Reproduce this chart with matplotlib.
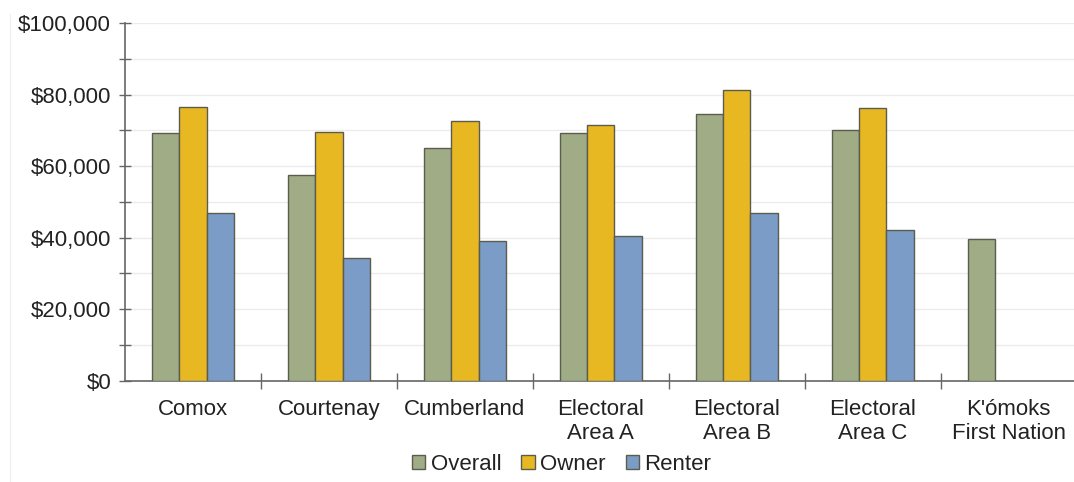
import matplotlib.pyplot as plt
import numpy as np
from matplotlib.ticker import FuncFormatter, MultipleLocator

plt.rcParams['font.family'] = ['Liberation Sans', 'DejaVu Sans']

communities = ['Comox', 'Courtenay', 'Cumberland', 'Electoral\nArea A',
               'Electoral\nArea B', 'Electoral\nArea C', "K'ómoks\nFirst Nation"]
overall = [69300, 57400, 65200, 69300, 74700, 70200, 39600]
owner = [76500, 69700, 72500, 71500, 81400, 76400, np.nan]
renter = [46800, 34400, 39100, 40600, 46800, 42100, np.nan]

series_names = ['Overall', 'Owner', 'Renter']
series_colors = ['#9fac86', '#e8b823', '#7a9cc6']
edge = '#5c5c4e'


def draw(ax):
    x = np.arange(len(communities))
    w = 0.2
    for i, (vals, name, col) in enumerate(zip([overall, owner, renter], series_names, series_colors)):
        ax.bar(x + (i - 1) * w, vals, width=w, color=col, edgecolor=edge,
               linewidth=1.0, label=name, zorder=3)

    ax.set_xlim(-0.5, 6.48)
    ax.set_ylim(0, 100000)

    # y axis: labelled every 20k, minor marks every 10k, faint grid
    ax.yaxis.set_major_locator(MultipleLocator(20000))
    ax.yaxis.set_minor_locator(MultipleLocator(10000))
    ax.yaxis.set_major_formatter(FuncFormatter(lambda v, p: f'${v:,.0f}'))
    ax.grid(axis='y', which='both', color='#ececec', linewidth=1.0, zorder=0)
    ax.tick_params(axis='y', which='both', direction='inout', length=8,
                   width=1, color='#666666', labelsize=16, labelcolor='#222222', pad=6)

    # x axis: category names centred, ticks between groups
    ax.set_xticks(x)
    ax.set_xticklabels(communities, fontsize=16, color='#222222', linespacing=1.2)
    ax.set_xticks(np.arange(len(communities) - 1) + 0.5, minor=True)
    ax.tick_params(axis='x', which='major', length=0, pad=13)
    ax.tick_params(axis='x', which='minor', direction='inout', length=12,
                   width=1, color='#666666')

    for side in ['top', 'right']:
        ax.spines[side].set_visible(False)
    for side in ['left', 'bottom']:
        ax.spines[side].set_color('#666666')
        ax.spines[side].set_linewidth(1.2)

    ax.legend(loc='upper center', bbox_to_anchor=(0.46, -0.168), ncol=3,
              frameon=False, fontsize=16, handlelength=0.6, handleheight=0.6,
              handletextpad=0.25, columnspacing=0.9, labelcolor='#222222',
              borderpad=0.1)


def main():
    fig = plt.figure(figsize=(10.74, 4.82), dpi=100, facecolor='white')
    ax = fig.add_axes([0.1164, 0.210, 0.8836, 0.742])
    fig.add_artist(plt.Line2D([0.0093, 0.0093], [0.0, 0.97], color='#f0f0f0',
                              linewidth=1, transform=fig.transFigure))
    draw(ax)
    fig.savefig('out.png', dpi=100)


if __name__ == '__main__':
    main()
